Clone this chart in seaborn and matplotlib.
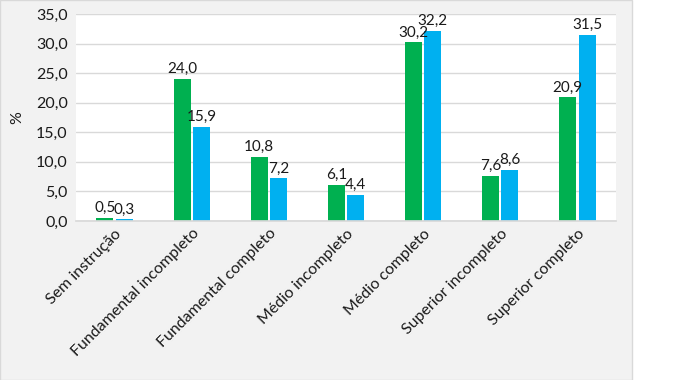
import matplotlib
matplotlib.use("Agg")
import matplotlib.pyplot as plt
import seaborn as sns
import pandas as pd
from matplotlib.patches import Rectangle
from matplotlib.ticker import FuncFormatter

categorias = ["Sem instrução", "Fundamental incompleto", "Fundamental completo",
              "Médio incompleto", "Médio completo", "Superior incompleto", "Superior completo"]
serie_verde = [0.5, 24.0, 10.8, 6.1, 30.2, 7.6, 20.9]
serie_azul = [0.3, 15.9, 7.2, 4.4, 32.2, 8.6, 31.5]
series = ["Série 1", "Série 2"]
cores = ["#00b050", "#00b0f0"]

df = pd.DataFrame({
    "cat": categorias * 2,
    "val": serie_verde + serie_azul,
    "serie": [series[0]] * len(categorias) + [series[1]] * len(categorias),
})

sns.set_theme(style="white")
plt.rcParams["font.family"] = ["Lato", "DejaVu Sans"]

fig = plt.figure(figsize=(6.76, 3.8), dpi=100)
fig.patch.set_facecolor("white")
fig.patches.append(Rectangle((0, 0), 632 / 676, 1, transform=fig.transFigure,
                             facecolor="#f2f2f2", edgecolor="#d9d9d9", lw=1, zorder=-10))
ax = fig.add_axes([76 / 676, 1 - 221 / 380, 540 / 676, 207 / 380])
ax.set_facecolor("white")

sns.barplot(data=df, x="cat", y="val", hue="serie", palette=cores, width=0.5, gap=0.12,
            ax=ax, legend=False, linewidth=0, saturation=1)

fmt = lambda v: f"{v:.1f}".replace(".", ",")
for cont in ax.containers:
    ax.bar_label(cont, labels=[fmt(b.get_height()) for b in cont], padding=2,
                 fontsize=11, color="#1a1a1a")

ax.set_ylim(0, 35)
ax.set_yticks(range(0, 36, 5))
ax.yaxis.set_major_formatter(FuncFormatter(lambda v, p: fmt(v)))
ax.grid(axis="y", color="#d9d9d9", lw=1)
ax.set_axisbelow(True)
for s in ["top", "right", "left"]:
    ax.spines[s].set_visible(False)
ax.spines["bottom"].set_color("#d9d9d9")
ax.tick_params(axis="y", length=0, labelsize=11.5, colors="#1a1a1a", pad=6)
ax.tick_params(axis="x", length=0, labelsize=11.5, colors="#1a1a1a", pad=4)
ax.set_xlabel("")
ax.set_ylabel("%", fontsize=11.5, color="#1a1a1a", labelpad=8)
plt.setp(ax.get_xticklabels(), rotation=45, ha="right", rotation_mode="anchor")
ax.set_xlim(-0.5, len(categorias) - 0.5)

fig.savefig("out.png", dpi=100, facecolor=fig.get_facecolor())
